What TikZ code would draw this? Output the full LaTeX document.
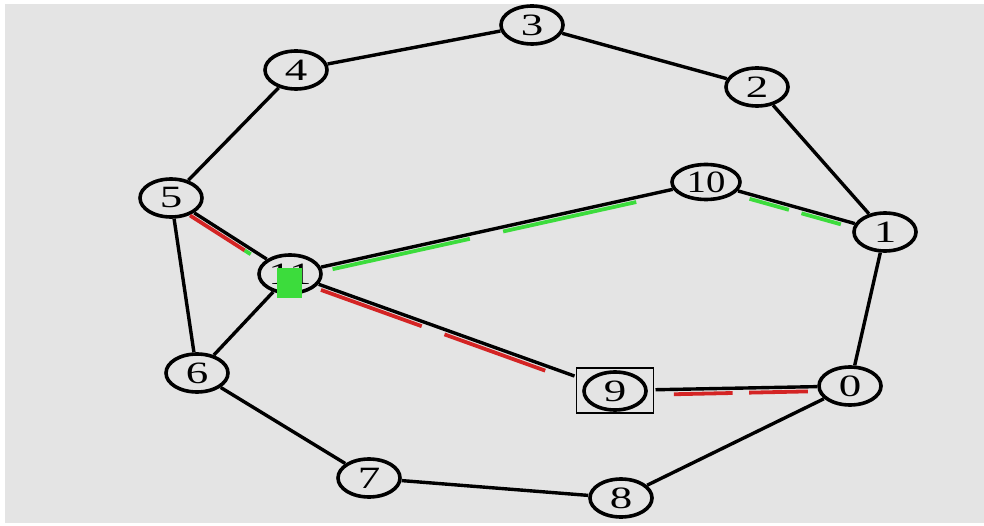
\documentclass[tikz,border=0pt]{standalone}
\usepackage{fontspec}
\setmainfont{Liberation Serif}
\usetikzlibrary{shapes.geometric,calc}
\definecolor{bggray}{HTML}{E4E4E4}
\definecolor{pathred}{HTML}{D42424}
\definecolor{pathgreen}{HTML}{3CDC3C}
\tikzset{
  vertex/.style={ellipse, draw=black, line width=3.6pt, minimum width=62pt,
    minimum height=38pt, inner sep=0pt, outer sep=2pt,
    font=\fontsize{31}{31}\selectfont},
  edge/.style={draw=black, line width=3.4pt},
  redpath/.style={draw=pathred, line width=3.8pt},
  greenpath/.style={draw=pathgreen, line width=3.8pt},
}
% label with horizontally widened digits
\newcommand\lbl[1]{\scalebox{1.45}[1]{#1}}
% one highlighted stretch beside the edge a--b, between fractions t1 and t2
\newcommand\hiseg[5]{\draw[#5] ($(#1)!#3!(#2)!4.5pt!-90:(#2)$) -- ($(#1)!#4!(#2)!4.5pt!-90:(#2)$);}
\begin{document}
\begin{tikzpicture}[x=1pt,y=-1pt]
\useasboundingbox (0,0) rectangle (984,526);
\fill[white] (0,0) rectangle (984,526);
\fill[bggray] (5,4) rectangle (984,523);

% vertices
\node[vertex] (n0) at (850,386) {\lbl{0}};
\node[vertex] (n1) at (885,232) {\lbl{1}};
\node[vertex] (n2) at (757,87) {\lbl{2}};
\node[vertex] (n3) at (532,25) {\lbl{3}};
\node[vertex] (n4) at (296,70) {\lbl{4}};
\node[vertex] (n5) at (171,198) {\lbl{5}};
\node[vertex] (n6) at (197,373) {\lbl{6}};
\node[vertex] (n7) at (369,478) {\lbl{7}};
\node[vertex] (n8) at (621,498) {\lbl{8}};
\node[vertex] (n9) at (615,391) {\lbl{9}};
\node[vertex, minimum width=68pt, minimum height=35pt] (n10) at (706,182) {\scalebox{1.25}[1]{10}};
\node[vertex] (n11) at (290,274) {\lbl{11}};
\node[draw=black, line width=1.4pt, minimum width=77pt, minimum height=45pt,
      inner sep=0pt, outer sep=2pt] (sel) at (615,390.5) {};

% marker on vertex 11
\fill[pathgreen] (277,268) rectangle (302,298);

% plain edges
\draw[edge] (n3) -- (n2);
\draw[edge] (n3) -- (n4);
\draw[edge] (n4) -- (n5);
\draw[edge] (n2) -- (n1);
\draw[edge] (n5) -- (n6);
\draw[edge] (n11) -- (n6);
\draw[edge] (n1) -- (n0);
\draw[edge] (n6) -- (n7);
\draw[edge] (n7) -- (n8);
\draw[edge] (n8) -- (n0);

% edges carrying a highlighted route
\draw[edge] (n5) -- (n11);
\draw[edge] (n11) -- (n10);
\draw[edge] (n10) -- (n1);
\draw[edge] (n11) -- (sel);
\draw[edge] (sel) -- (n0);

\hiseg{n5}{n11}{0.18}{0.64}{redpath}
\hiseg{n5}{n11}{0.64}{0.69}{greenpath}
\hiseg{n11}{n10}{0.10}{0.43}{greenpath}
\hiseg{n11}{n10}{0.51}{0.83}{greenpath}
\hiseg{n10}{n1}{0.25}{0.47}{greenpath}
\hiseg{n10}{n1}{0.54}{0.76}{greenpath}
\hiseg{n11}{n9}{0.10}{0.41}{redpath}
\hiseg{n11}{n9}{0.48}{0.79}{redpath}
\hiseg{n9}{n0}{0.25}{0.50}{redpath}
\hiseg{n9}{n0}{0.57}{0.82}{redpath}
\end{tikzpicture}
\end{document}
